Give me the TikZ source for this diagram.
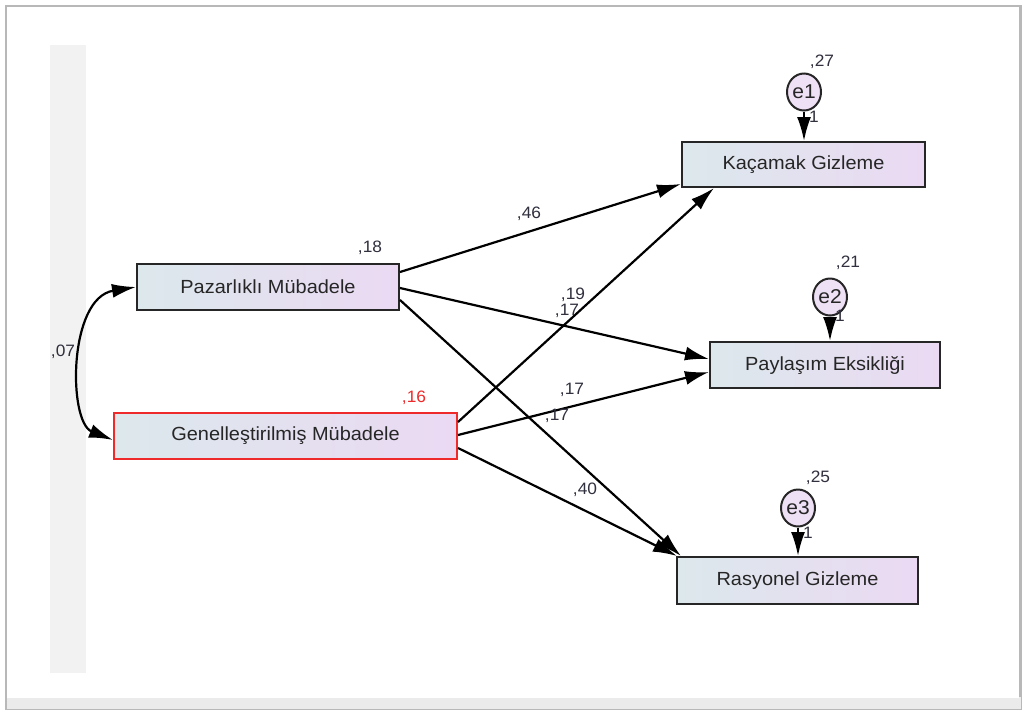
\documentclass[tikz,border=0pt]{standalone}
\usepackage{fontspec}
\setmainfont{Liberation Sans}
\newfontfamily\widefont[FakeStretch=1.05]{Liberation Sans}
\usetikzlibrary{arrows.meta,shapes.geometric}
\definecolor{txt}{HTML}{262626}
\definecolor{lbl}{HTML}{30303E}
\definecolor{boxl}{HTML}{DCE8EC}
\definecolor{boxr}{HTML}{EBD9F3}
\definecolor{redb}{HTML}{EE2A2A}
\begin{document}
\begin{tikzpicture}[x=1pt,y=-1pt,
  var/.style={draw=black!85,line width=2pt,left color=boxl,right color=boxr,
    minimum height=46pt,inner sep=0pt,font=\widefont\fontsize{19}{22}\selectfont,text=txt},
  err/.style={draw=black!85,line width=2pt,ellipse,fill=boxr!80!white,
    minimum width=34pt,minimum height=37pt,inner sep=0pt,font=\widefont\fontsize{20}{22}\selectfont,text=txt},
  arr/.style={line width=2.2pt,-{Latex[length=24pt,width=14pt]}},
  arrb/.style={line width=2.2pt,{Latex[length=24pt,width=14pt]}-{Latex[length=24pt,width=14pt]}},
  lab/.style={font=\widefont\fontsize{16.5}{18}\selectfont,text=lbl,inner sep=0pt}]
\useasboundingbox (0,0) rectangle (1025,713);
% frame
\fill[black!28] (5,5) rectangle (1022,710);
\fill[black!8] (7,697) rectangle (1021,709);
\fill[white] (7,7) rectangle (1019,698);
\fill[black!5] (50,45) rectangle (86,673);
% boxes
\node[var,minimum width=262pt] (paz) at (268,287) {Pazarlıklı Mübadele};
\node[var,minimum width=343pt,draw=redb] (gen) at (285.5,436) {Genelleştirilmiş Mübadele};
\node[var,minimum width=243pt,minimum height=45pt] (kac) at (803.5,164.5) {Kaçamak Gizleme};
\node[var,minimum width=230pt] (pay) at (825,365) {Paylaşım Eksikliği};
\node[var,minimum width=241pt,minimum height=47pt] (ras) at (797.5,580.5) {Rasyonel Gizleme};
% errors
\node[err] (e1) at (804,92) {e1};
\node[err] (e2) at (830,297) {e2};
\node[err] (e3) at (798,508) {e3};
% arrows
\draw[arr] (e1) -- (e1 |- kac.north);
\draw[arr] (e2) -- (e2 |- pay.north);
\draw[arr] (e3) -- (e3 |- ras.north);
\draw[arr] ([yshift=15pt]paz.east) -- ([yshift=4pt]kac.south west);
\draw[arr] ([yshift=-1pt]paz.east) -- ([yshift=6pt]pay.west);
\draw[arr] ([yshift=-13pt]paz.east) -- ([xshift=5pt]ras.north west);
\draw[arr] ([yshift=14pt]gen.east) -- ([xshift=33pt]kac.south west);
\draw[arr] ([yshift=1pt]gen.east) -- ([yshift=-7pt]pay.west);
\draw[arr] ([yshift=-12pt]gen.east) -- ([xshift=1pt]ras.north west);
\draw[arrb] (paz.west) .. controls (68,298) and (68,422) .. ([yshift=-4pt]gen.west);
% labels
\node[lab] (l27) at (822,62) {,27};
\node[lab] (l21) at (848,263) {,21};
\node[lab] (l25) at (818,478) {,25};
\node[lab] (o1) at (814,117) {1};
\node[lab] (o2) at (840,316) {1};
\node[lab] (o3) at (808,533) {1};
\node[lab] (l18) at (370,248) {,18};
\node[lab,text=redb] (l16) at (414,398) {,16};
\node[lab] (l07) at (63,352) {,07};
\node[lab] (l46) at (529,214) {,46};
\node[lab] (l19) at (573,295) {,19};
\node[lab] (l17a) at (567,311) {,17};
\node[lab] (l17b) at (572,390) {,17};
\node[lab] (l17c) at (557,416) {,17};
\node[lab] (l40) at (585,490) {,40};
\end{tikzpicture}
\end{document}
